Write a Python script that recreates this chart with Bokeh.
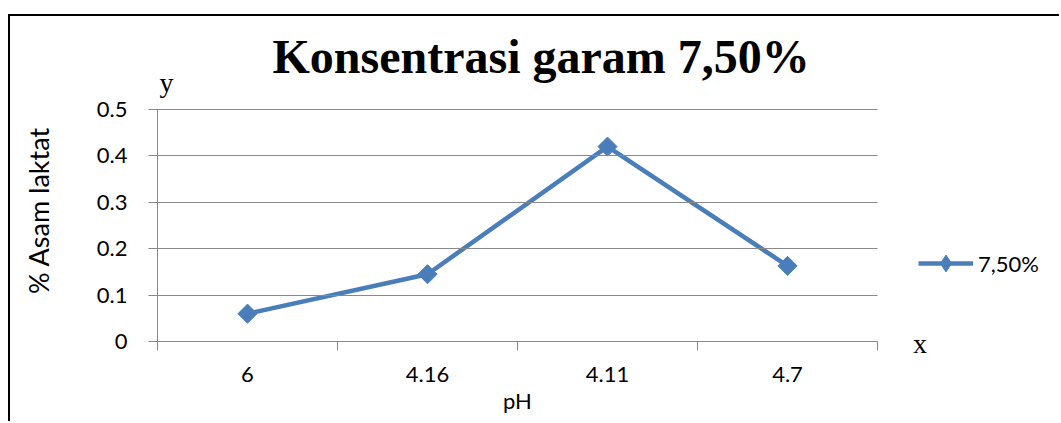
import math
from bokeh.plotting import figure
from bokeh.models import (Legend, LegendItem, FixedTicker, Range1d, LinearAxis,
                          Label)
from bokeh.embed import file_html
from bokeh.resources import INLINE

# ---- data ----
categories = ["6", "4.16", "4.11", "4.7"]
asam_laktat = [0.06, 0.145, 0.42, 0.163]
y_tick_values = [0, 0.1, 0.2, 0.3, 0.4, 0.5]
y_tick_labels = ["0", "0.1", "0.2", "0.3", "0.4", "0.5"]
series_name = "7,50%"
title_text = "Konsentrasi garam 7,50%"
x_title = "pH"
y_title = "% Asam laktat"

BLUE = "#4A7EBB"
GRID = "#898989"
SANS = "Lato"
SERIF = "Liberation Serif"

# ---- layout (pixels) ----
W, H = 1051, 407
LEFT = 147                        # canvas x of the category axis start
PLOT_TOP = 93                     # canvas y of the top value line
TOP = 77                          # canvas y of the frame top
PLOT_W = 720                      # width of the category area
PLOT_H = 232                      # height of the value area (0 .. 0.5)
Y_MAX = 0.5
frame_h = H - TOP
px_x = PLOT_W / len(categories)   # pixels per category
px_y = PLOT_H / Y_MAX             # pixels per value unit

n = len(categories)
x_centers = [i + 0.5 for i in range(n)]
x_bounds = [i for i in range(n + 1)]
# the frame spans the canvas below the title so that all texts show
x_start = -LEFT / px_x
x_end = (W - LEFT) / px_x
y_end = Y_MAX + (PLOT_TOP - TOP) / px_y
y_start = y_end - frame_h / px_y

p = figure(width=W, height=H,
           x_range=Range1d(x_start, x_end), y_range=Range1d(y_start, y_end),
           output_backend="svg", toolbar_location=None,
           min_border_left=0, min_border_right=0,
           min_border_top=TOP, min_border_bottom=0)
p.styles = {"margin-top": "14px", "margin-left": "8px",
            "border-top": "2px solid black", "border-left": "2px solid black"}
p.outline_line_color = None
p.background_fill_color = "white"
p.border_fill_color = "white"
p.grid.visible = False

# title
p.title.text = title_text
p.title.text_font = SERIF
p.title.text_font_style = "bold"
p.title.text_font_size = "48px"
p.title.text_color = "black"
p.title.align = "left"
p.title.offset = LEFT + 115
p.title.standoff = -38

# x axis (fixed at value 0)
xa = p.xaxis[0]
xa.fixed_location = 0
xa.bounds = (0, n)
xa.ticker = FixedTicker(ticks=x_centers, minor_ticks=x_bounds)
xa.major_label_overrides = {c: lab for c, lab in zip(x_centers, categories)}
xa.major_tick_out = 0
xa.major_tick_in = 0
xa.minor_tick_out = 9
xa.minor_tick_in = 0
xa.minor_tick_line_color = GRID
xa.axis_line_color = GRID
xa.major_label_standoff = 16
xa.major_label_text_font = SANS
xa.major_label_text_font_size = "22px"
xa.major_label_text_color = "black"
xa.axis_label = x_title
xa.axis_label_text_font = SANS
xa.axis_label_text_font_size = "22px"
xa.axis_label_text_font_style = "normal"
xa.axis_label_text_color = "black"
xa.axis_label_standoff = 2

# y axis (fixed at category start; inward ticks form the horizontal grid)
ya = p.yaxis[0]
ya.fixed_location = 0
ya.bounds = (0, Y_MAX)
ya.ticker = FixedTicker(ticks=y_tick_values)
ya.major_label_overrides = {v: lab for v, lab in zip(y_tick_values, y_tick_labels)}
ya.major_tick_out = 9
ya.major_tick_in = PLOT_W
ya.major_tick_line_color = GRID
ya.minor_tick_line_color = None
ya.axis_line_color = GRID
ya.major_label_standoff = 21
ya.major_label_text_font = SANS
ya.major_label_text_font_size = "22px"
ya.major_label_text_color = "black"

# value-axis title, rotated
p.add_layout(Label(x=-119 / px_x, y=131 / px_y, text=y_title, angle=math.pi / 2,
                   text_font=SANS, text_font_size="27px", text_color="black",
                   text_align="center", text_baseline="middle"))

# "y" letter above the value axis
y_letter_pos = 0.05
y_letter_axis = LinearAxis(ticker=FixedTicker(ticks=[y_letter_pos]),
                           major_label_overrides={y_letter_pos: "y"},
                           axis_line_color=None, major_tick_line_color=None,
                           major_tick_out=0, major_tick_in=0,
                           minor_tick_line_color=None,
                           major_label_standoff=12 - (PLOT_TOP - TOP),
                           major_label_text_font=SERIF,
                           major_label_text_font_size="28px",
                           major_label_text_color="black")
p.add_layout(y_letter_axis, "above")

# "x" letter right of the category axis end
p.add_layout(Label(x=n + 42.5 / px_x, y=-2 / px_y, text="x", text_font=SERIF,
                   text_font_size="28px", text_color="black",
                   text_align="center", text_baseline="alphabetic"))

# series
legend_mark = p.scatter(x_centers, asam_laktat, marker="diamond", size=12,
                        fill_color=BLUE, line_color=BLUE)
line_r = p.line(x_centers, asam_laktat, line_color=BLUE, line_width=4.5)
mark_r = p.scatter(x_centers, asam_laktat, marker="square", angle=math.pi / 4,
                   size=13.5, fill_color=BLUE, line_color=BLUE)

legend = Legend(items=[LegendItem(label=series_name,
                                  renderers=[line_r, legend_mark])],
                location=(LEFT + PLOT_W + 41, H - PLOT_TOP - PLOT_H + 57),
                glyph_width=55, glyph_height=42,
                label_standoff=5, padding=0, margin=0, spacing=0,
                border_line_color=None, background_fill_alpha=0,
                label_text_font=SANS, label_text_font_size="22px",
                label_text_color="black")
p.add_layout(legend)

open("out.html", "w").write(file_html(p, INLINE))
